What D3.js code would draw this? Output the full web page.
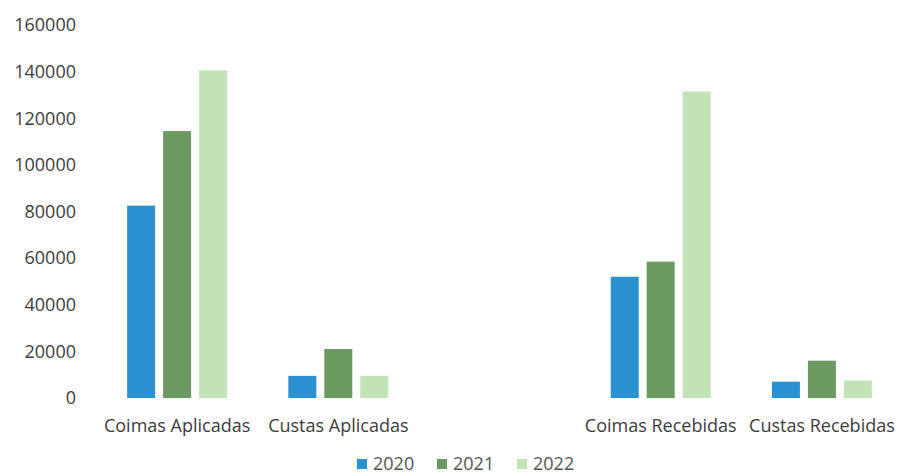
<!DOCTYPE html>
<html>
<head>
<meta charset="utf-8">
<script src="https://cdn.jsdelivr.net/npm/d3@7/dist/d3.min.js"></script>
<style>
  html, body { margin: 0; padding: 0; background: #ffffff; }
  svg { display: block; font-family: "Open Sans", "Noto Sans", sans-serif; }
</style>
</head>
<body>
<svg id="chart" width="901" height="476"></svg>
<script>
// Categories (the blank entry leaves a gap between the two groups)
const categories = ["Coimas Aplicadas", "Custas Aplicadas", "", "Coimas Recebidas", "Custas Recebidas"];
const years = ["2020", "2021", "2022"];
const values2020 = [82500, 9500, null, 52000, 7000];
const values2021 = [114500, 21000, null, 58500, 16000];
const values2022 = [140500, 9500, null, 131500, 7500];
const yTicks = [0, 20000, 40000, 60000, 80000, 100000, 120000, 140000, 160000];
const colors = ["#2b91d0", "#6a9a5f", "#c2e3b8"];

const seriesValues = [values2020, values2021, values2022];
const rows = categories.map((c, i) => ({
  category: c,
  values: years.map((y, k) => ({ year: y, value: seriesValues[k][i] }))
}));

const svg = d3.select("#chart");

const x0 = d3.scaleBand()
  .domain(categories)
  .range([96.5, 902.5])
  .paddingInner(0.38)
  .paddingOuter(0.19);

const x1 = d3.scaleBand()
  .domain(years)
  .range([0, x0.bandwidth()])
  .paddingInner(0.222)
  .paddingOuter(0);

const y = d3.scaleLinear()
  .domain([0, 160000])
  .range([398, 25]);

const color = d3.scaleOrdinal().domain(years).range(colors);

// Y axis: labels only
const yAxis = d3.axisLeft(y)
  .tickValues(yTicks)
  .tickFormat(d3.format("d"))
  .tickSize(0)
  .tickPadding(0);

const yg = svg.append("g")
  .attr("transform", "translate(76,0)")
  .call(yAxis);
yg.select(".domain").remove();
yg.selectAll("text")
  .attr("fill", "#3d3d3d")
  .style("font-size", "18px")
  .style("font-family", "'Open Sans', sans-serif");

// Bars
const groups = svg.append("g")
  .selectAll("g")
  .data(rows)
  .join("g")
  .attr("transform", d => `translate(${x0(d.category)},0)`);

groups.selectAll("rect")
  .data(d => d.values.filter(v => v.value != null))
  .join("rect")
  .attr("x", d => x1(d.year))
  .attr("width", x1.bandwidth())
  .attr("y", d => y(d.value))
  .attr("height", d => y(0) - y(d.value))
  .attr("fill", d => color(d.year));

// X axis: category labels only
const xAxis = d3.axisBottom(x0).tickSize(0).tickPadding(0);
const xg = svg.append("g")
  .attr("transform", "translate(0,419)")
  .call(xAxis);
xg.select(".domain").remove();
xg.selectAll("text")
  .attr("fill", "#3d3d3d")
  .attr("dy", "0.71em")
  .style("font-size", "18px")
  .style("font-family", "'Open Sans', sans-serif");

// Legend
const legend = svg.append("g").attr("transform", "translate(357,458)");
const item = legend.selectAll("g")
  .data(years)
  .join("g")
  .attr("transform", (d, i) => `translate(${i * 80},0)`);
item.append("rect")
  .attr("width", 10)
  .attr("height", 10)
  .attr("y", 1)
  .attr("fill", d => color(d));
item.append("text")
  .attr("x", 16)
  .attr("y", 6)
  .attr("dy", "0.35em")
  .attr("fill", "#555555")
  .style("font-size", "18px")
  .text(d => d);
</script>
</body>
</html>
